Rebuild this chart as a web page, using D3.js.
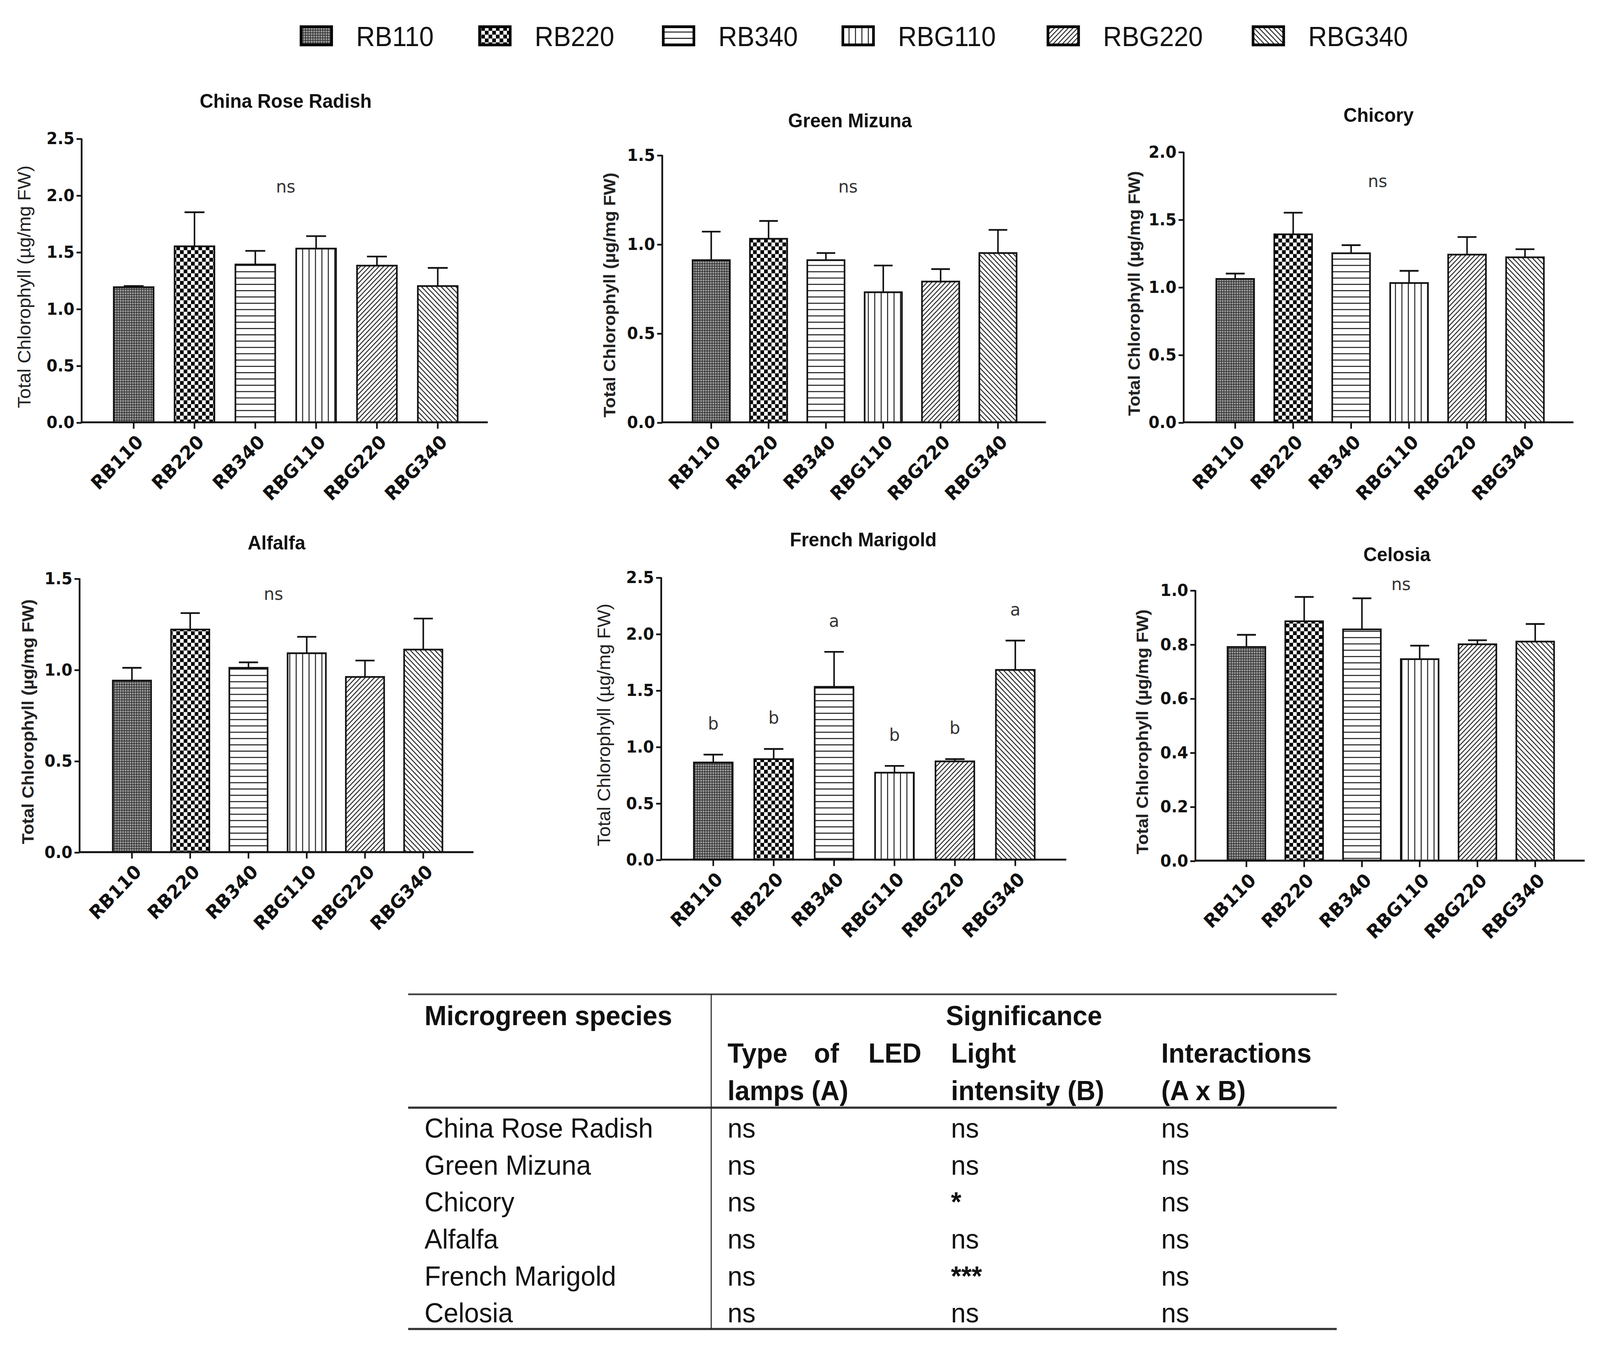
<!DOCTYPE html>
<html>
<head>
<meta charset="utf-8">
<script src="https://cdn.jsdelivr.net/npm/d3@7"></script>
<style>
  html, body { margin: 0; padding: 0; background: #fff; overflow: hidden; }
  svg { display: block; width: 100vw; height: 100vh; font-family: "Liberation Sans", Arial, sans-serif; }
</style>
</head>
<body>
<svg id="fig" viewBox="0 0 1568 1258" preserveAspectRatio="none"></svg>
<script>
// treatments (LED type + intensity)
const treatments = ["RB110", "RB220", "RB340", "RBG110", "RBG220", "RBG340"];
const species = ["China Rose Radish", "Green Mizuna", "Chicory", "Alfalfa", "French Marigold", "Celosia"];

// mean total chlorophyll (ug/mg FW) and top of the error bar
const radishMean   = [1.19, 1.55, 1.39, 1.53, 1.38, 1.20];
const radishTop    = [1.20, 1.85, 1.51, 1.64, 1.46, 1.36];
const mizunaMean   = [0.91, 1.03, 0.91, 0.73, 0.79, 0.95];
const mizunaTop    = [1.07, 1.13, 0.95, 0.88, 0.86, 1.08];
const chicoryMean  = [1.06, 1.39, 1.25, 1.03, 1.24, 1.22];
const chicoryTop   = [1.10, 1.55, 1.31, 1.12, 1.37, 1.28];
const alfalfaMean  = [0.94, 1.22, 1.01, 1.09, 0.96, 1.11];
const alfalfaTop   = [1.01, 1.31, 1.04, 1.18, 1.05, 1.28];
const marigoldMean = [0.86, 0.89, 1.53, 0.77, 0.87, 1.68];
const marigoldTop  = [0.93, 0.98, 1.84, 0.83, 0.89, 1.94];
const celosiaMean  = [0.79, 0.885, 0.855, 0.745, 0.80, 0.81];
const celosiaTop   = [0.835, 0.975, 0.97, 0.795, 0.815, 0.875];

const yMax   = [2.5, 1.5, 2.0, 1.5, 2.5, 1.0];
const yStep  = [0.5, 0.5, 0.5, 0.5, 0.5, 0.2];
const marigoldLetters = ["b", "b", "a", "b", "b", "a"];

// significance table
const tableSpecies = species;
const sigLed  = ["ns", "ns", "ns", "ns", "ns", "ns"];
const sigInt  = ["ns", "ns", "*", "ns", "***", "ns"];
const sigAxB  = ["ns", "ns", "ns", "ns", "ns", "ns"];

const means = [radishMean, mizunaMean, chicoryMean, alfalfaMean, marigoldMean, celosiaMean];
const tops  = [radishTop, mizunaTop, chicoryTop, alfalfaTop, marigoldTop, celosiaTop];

// panel geometry (viewBox units)
const panels = [
  {ax: 80,   top: 129.5, bot: 395, c0: 131,    step: 59.6, bw: 39,   xEnd: 478,  tx: 280,  ty: 95,  lx: 30,   boldLab: false, ns: [280, 175]},
  {ax: 649,  top: 145,   bot: 395, c0: 697,    step: 56.2, bw: 36.5, xEnd: 1025, tx: 833,  ty: 113, lx: 603,  boldLab: true,  ns: [831, 175]},
  {ax: 1160, top: 142,   bot: 395, c0: 1210.5, step: 56.8, bw: 37,   xEnd: 1542, tx: 1351, ty: 108, lx: 1117, boldLab: true,  ns: [1350, 170]},
  {ax: 78,   top: 541,   bot: 797, c0: 129.3,  step: 57.1, bw: 37.5, xEnd: 464,  tx: 271,  ty: 508, lx: 33,   boldLab: true,  ns: [268, 556]},
  {ax: 648,  top: 540,   bot: 804, c0: 699,    step: 59.2, bw: 38,   xEnd: 1045, tx: 846,  ty: 505, lx: 598,  boldLab: false, ns: null},
  {ax: 1171.5, top: 552, bot: 805, c0: 1221.5, step: 56.6, bw: 37,   xEnd: 1553, tx: 1369, ty: 519, lx: 1125, boldLab: true,  ns: [1373, 547]}
];

const tickFont = "'DejaVu Sans', Verdana, sans-serif";

const svg = d3.select("#fig");
svg.append("rect").attr("width", 1568).attr("height", 1258).attr("fill", "#fff");

// ---- fill patterns, one per treatment
const defs = svg.append("defs");
function pat(id, w, h, rot) {
  const p = defs.append("pattern").attr("id", id)
    .attr("patternUnits", "userSpaceOnUse").attr("width", w).attr("height", h);
  if (rot) p.attr("patternTransform", "rotate(" + rot + ")");
  p.append("rect").attr("width", w).attr("height", h).attr("fill", "#fff");
  return p;
}
// fine grey dot texture
let p = pat("p0", 2.4, 2.4);
p.append("rect").attr("width", 2.4).attr("height", 2.4).attr("fill", "#5c5c5c");
p.append("rect").attr("x", 0.2).attr("y", 0.2).attr("width", 0.9).attr("height", 0.9).attr("fill", "#e6e6e6");
p.append("rect").attr("x", 1.4).attr("y", 1.4).attr("width", 0.8).attr("height", 0.8).attr("fill", "#1a1a1a");
// coarse checkerboard
p = pat("p1", 7.2, 7.2);
p.append("rect").attr("width", 3.6).attr("height", 3.6).attr("fill", "#000");
p.append("rect").attr("x", 3.6).attr("y", 3.6).attr("width", 3.6).attr("height", 3.6).attr("fill", "#000");
p = pat("p2", 10, 5.9);
p.append("rect").attr("y", 0).attr("width", 10).attr("height", 0.9).attr("fill", "#111");
p = pat("p3", 6.3, 10);
p.append("rect").attr("x", 0).attr("width", 0.9).attr("height", 10).attr("fill", "#111");
p = pat("p4", 3.2, 10, 45);
p.append("rect").attr("width", 0.9).attr("height", 10).attr("fill", "#222");
p = pat("p5", 3.4, 10, -45);
p.append("rect").attr("width", 0.9).attr("height", 10).attr("fill", "#222");
const fillOf = i => "url(#p" + i + ")";

// ---- legend
const legX = [295, 470, 650, 826, 1027, 1228];
const leg = svg.append("g");
treatments.forEach((t, i) => {
  leg.append("rect").attr("x", legX[i]).attr("y", 25).attr("width", 30).attr("height", 17)
    .attr("fill", fillOf(i)).attr("stroke", "#000").attr("stroke-width", 2.6);
  leg.append("text").attr("x", legX[i] + 54).attr("y", 43).attr("font-size", 25.5)
    .attr("fill", "#111").text(t);
});

// ---- bar panels
panels.forEach((P, k) => {
  const g = svg.append("g");
  const y = d3.scaleLinear().domain([0, yMax[k]]).range([P.bot, P.top]);
  const x = d3.scaleBand().domain(treatments)
    .range([P.c0 - P.step / 2, P.c0 - P.step / 2 + treatments.length * P.step])
    .paddingInner(1 - P.bw / P.step).paddingOuter((1 - P.bw / P.step) / 2);

  // title
  g.append("text").attr("x", P.tx).attr("y", P.ty + 6).attr("text-anchor", "middle")
    .attr("font-size", 18.5).attr("font-weight", "bold").attr("fill", "#111").text(species[k]);

  // y axis
  const ticks = d3.range(0, yMax[k] + 1e-9, yStep[k]);
  const yAxis = d3.axisLeft(y).tickValues(ticks).tickFormat(d3.format(".1f")).tickSize(5).tickPadding(2);
  const ya = g.append("g").attr("transform", "translate(" + P.ax + ",0)").call(yAxis);
  ya.select(".domain").attr("stroke", "#111").attr("stroke-width", 1.7).attr("d", "M0," + P.top + "V" + P.bot);
  ya.selectAll(".tick line").attr("stroke", "#111").attr("stroke-width", 1.6);
  ya.selectAll(".tick text").attr("font-size", 15.5).attr("font-weight", "bold").attr("fill", "#111")
    .attr("font-family", tickFont);

  // y label
  g.append("text")
    .attr("transform", "translate(" + P.lx + "," + ((P.top + P.bot) / 2 + 6) + ") rotate(-90)")
    .attr("text-anchor", "middle").attr("font-size", P.boldLab ? 16.5 : 17.5)
    .attr("font-weight", P.boldLab ? "bold" : "normal").attr("fill", "#222")
    .text("Total Chlorophyll (\u00b5g/mg FW)");

  // bars
  g.selectAll("rect.bar").data(means[k]).enter().append("rect").attr("class", "bar")
    .attr("x", (d, i) => x(treatments[i])).attr("width", x.bandwidth())
    .attr("y", d => y(d)).attr("height", d => P.bot - y(d))
    .attr("fill", (d, i) => fillOf(i)).attr("stroke", "#111").attr("stroke-width", 1.6);

  // upper error bars
  const cap = x.bandwidth() * 0.25;
  tops[k].forEach((t, i) => {
    const cx = x(treatments[i]) + x.bandwidth() / 2;
    g.append("line").attr("x1", cx).attr("x2", cx).attr("y1", y(means[k][i])).attr("y2", y(t))
      .attr("stroke", "#111").attr("stroke-width", 1.5);
    g.append("line").attr("x1", cx - cap).attr("x2", cx + cap).attr("y1", y(t)).attr("y2", y(t))
      .attr("stroke", "#111").attr("stroke-width", 1.6);
  });

  // x axis
  const xAxis = d3.axisBottom(x).tickSize(6).tickSizeOuter(0);
  const xa = g.append("g").attr("transform", "translate(0," + P.bot + ")").call(xAxis);
  xa.select(".domain").attr("stroke", "#111").attr("stroke-width", 1.8).attr("d", "M" + P.ax + ",0H" + P.xEnd);
  xa.selectAll(".tick line").attr("stroke", "#111").attr("stroke-width", 1.6);
  xa.selectAll(".tick text").attr("font-size", 17.5).attr("font-weight", "bold").attr("fill", "#111")
    .attr("font-family", tickFont)
    .attr("text-anchor", "end").attr("dy", null)
    .attr("transform", "translate(4,13) rotate(-45)");

  // significance marks
  if (P.ns) {
    g.append("text").attr("x", P.ns[0]).attr("y", P.ns[1] + 5).attr("text-anchor", "middle")
      .attr("font-family", tickFont).attr("font-size", 16.5).attr("fill", "#333").text("ns");
  } else {
    marigoldLetters.forEach((l, i) => {
      const cx = x(treatments[i]) + x.bandwidth() / 2;
      g.append("text").attr("x", cx).attr("y", y(tops[k][i] + 0.28) + 6).attr("text-anchor", "middle")
        .attr("font-family", tickFont).attr("font-size", 16.5).attr("fill", "#333").text(l);
    });
  }
});

// ---- significance table
const tb = svg.append("g").attr("fill", "#111");
const rowY = d3.scalePoint().domain(tableSpecies).range([1055, 1228]);
const colX = [416, 713, 932, 1138];
tb.append("line").attr("x1", 400).attr("x2", 1310).attr("y1", 930).attr("y2", 930).attr("stroke", "#444").attr("stroke-width", 1.6);
tb.append("line").attr("x1", 400).attr("x2", 1310).attr("y1", 1036).attr("y2", 1036).attr("stroke", "#333").attr("stroke-width", 2);
tb.append("line").attr("x1", 400).attr("x2", 1310).attr("y1", 1243).attr("y2", 1243).attr("stroke", "#333").attr("stroke-width", 2);
tb.append("line").attr("x1", 697).attr("x2", 697).attr("y1", 930).attr("y2", 1243).attr("stroke", "#222").attr("stroke-width", 1);

const hdr = (x, yy, s, anchor) => tb.append("text").attr("x", x).attr("y", yy + 9)
  .attr("font-size", 26).attr("font-weight", "bold").attr("text-anchor", anchor || "start").text(s);
hdr(416, 950, "Microgreen species");
hdr(927, 950, "Significance");
// "Type of LED" is justified across the column in the source
hdr(713, 985, "Type");
hdr(810, 985, "of", "middle");
hdr(903, 985, "LED", "end");
hdr(713, 1020, "lamps (A)");
hdr(932, 985, "Light");
hdr(932, 1020, "intensity (B)");
hdr(1138, 985, "Interactions");
hdr(1138, 1020, "(A x B)");

tableSpecies.forEach((s, i) => {
  const yy = rowY(s) + 9;
  [s, sigLed[i], sigInt[i], sigAxB[i]].forEach((v, j) => {
    tb.append("text").attr("x", colX[j]).attr("y", yy).attr("font-size", 26)
      .attr("font-weight", v.startsWith("*") ? "bold" : "normal").text(v);
  });
});
</script>
</body>
</html>
